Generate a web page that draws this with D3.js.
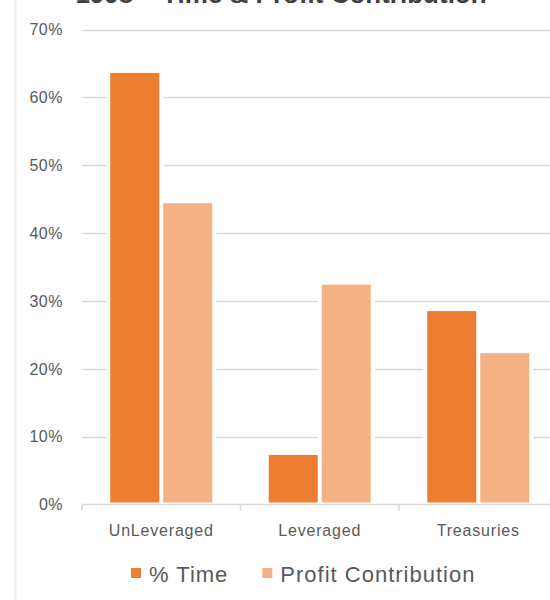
<!DOCTYPE html>
<html>
<head>
<meta charset="utf-8">
<script src="https://cdn.jsdelivr.net/npm/d3@7"></script>
<style>
  body { margin: 0; background: #fff; }
  svg { display: block; font-family: "Liberation Sans", Arial, sans-serif; }
</style>
</head>
<body>
<div id="chart"></div>
<script>
const width = 550;
const height = 600;

// data
const categories = ["UnLeveraged", "Leveraged", "Treasuries"];
const seriesNames = ["% Time", "Profit Contribution"];
const timeValues = [0.636, 0.073, 0.285];
const profitValues = [0.444, 0.324, 0.223];
const yTicks = [0, 0.1, 0.2, 0.3, 0.4, 0.5, 0.6, 0.7];
const colors = ["#ED7D31", "#F4B183"];

const title = "1998 \u2013 Time & Profit Contribution";

const svg = d3.select("#chart").append("svg")
    .attr("width", width)
    .attr("height", height);

// frame edge on the left
svg.append("line")
    .attr("x1", 15.5).attr("x2", 15.5)
    .attr("y1", 0).attr("y2", height)
    .attr("stroke", "#eeeeee")
    .attr("stroke-width", 2);

// title (cut off at the top like in the source)
svg.append("text")
    .attr("x", 281)
    .attr("y", 3)
    .attr("text-anchor", "middle")
    .attr("font-weight", "bold")
    .attr("font-size", 26)
    .attr("fill", "#404040")
    .text(title);

const x = d3.scaleBand()
    .domain(categories)
    .range([82, 557.5])
    .paddingInner(0)
    .paddingOuter(0);

// 49px bars, 4px gap, ~28px either side
const x1 = d3.scaleBand()
    .domain(seriesNames)
    .range([0, x.bandwidth()])
    .paddingInner(0.0755)
    .paddingOuter(0.533);

const y = d3.scaleLinear()
    .domain([0, 0.7])
    .range([504.5, 29.5]);

// gridlines
svg.append("g")
    .selectAll("line")
    .data(yTicks.slice(1))
    .join("line")
    .attr("x1", 82)
    .attr("x2", width)
    .attr("y1", d => Math.round(y(d)) + 0.5)
    .attr("y2", d => Math.round(y(d)) + 0.5)
    .attr("stroke", "#d9d9d9")
    .attr("stroke-width", 1.5);

// y labels
svg.append("g")
    .selectAll("text")
    .data(yTicks)
    .join("text")
    .attr("x", 63)
    .attr("y", d => y(d))
    .attr("dy", "0.36em")
    .attr("text-anchor", "end")
    .attr("font-size", 16)
    .attr("letter-spacing", 0.5)
    .attr("fill", "#595959")
    .text(d => d3.format(".0%")(d));

const rows = categories.map((c, i) => ({
    cat: c,
    vals: [timeValues[i], profitValues[i]]
}));

const groups = svg.append("g")
    .selectAll("g")
    .data(rows)
    .join("g")
    .attr("transform", d => `translate(${x(d.cat)},0)`);

// white halo so the gridlines stop short of the bars
groups.selectAll("rect.halo")
    .data(d => d.vals.map((v, j) => ({ v, s: seriesNames[j], j })))
    .join("rect")
    .attr("class", "halo")
    .attr("x", d => x1(d.s) - 4)
    .attr("width", x1.bandwidth() + 8)
    .attr("y", d => y(d.v) - 2)
    .attr("height", d => y(0) - y(d.v) + 1)
    .attr("fill", "#fff");

groups.selectAll("rect.bar")
    .data(d => d.vals.map((v, j) => ({ v, s: seriesNames[j], j })))
    .join("rect")
    .attr("class", "bar")
    .attr("x", d => x1(d.s))
    .attr("width", x1.bandwidth())
    .attr("y", d => y(d.v))
    .attr("height", d => y(0) - y(d.v) - 2)
    .attr("fill", d => colors[d.j]);

// x axis line + ticks
const axisY = 504.5;
svg.append("line")
    .attr("x1", 82).attr("x2", width)
    .attr("y1", axisY).attr("y2", axisY)
    .attr("stroke", "#d9d9d9")
    .attr("stroke-width", 1.5);

svg.append("g")
    .selectAll("line")
    .data(categories.concat(["_end"]))
    .join("line")
    .attr("x1", (d, i) => 82 + i * x.bandwidth())
    .attr("x2", (d, i) => 82 + i * x.bandwidth())
    .attr("y1", axisY)
    .attr("y2", axisY + 6)
    .attr("stroke", "#d9d9d9")
    .attr("stroke-width", 1.5);

svg.append("g")
    .selectAll("text")
    .data(categories)
    .join("text")
    .attr("x", d => x(d) + x.bandwidth() / 2)
    .attr("y", 535.5)
    .attr("text-anchor", "middle")
    .attr("font-size", 16)
    .attr("letter-spacing", 0.8)
    .attr("fill", "#595959")
    .text(d => d);

// legend
const legend = svg.append("g");
let lx = 131;
seriesNames.forEach((name, i) => {
    legend.append("rect")
        .attr("x", lx)
        .attr("y", 568)
        .attr("width", 10)
        .attr("height", 10)
        .attr("fill", colors[i]);
    const t = legend.append("text")
        .attr("x", lx + 18)
        .attr("y", 581.5)
        .attr("font-size", 22)
        .attr("letter-spacing", 1)
        .attr("fill", "#595959")
        .text(name);
    lx = lx + 18 + t.node().getComputedTextLength() + 34;
});
</script>
</body>
</html>
